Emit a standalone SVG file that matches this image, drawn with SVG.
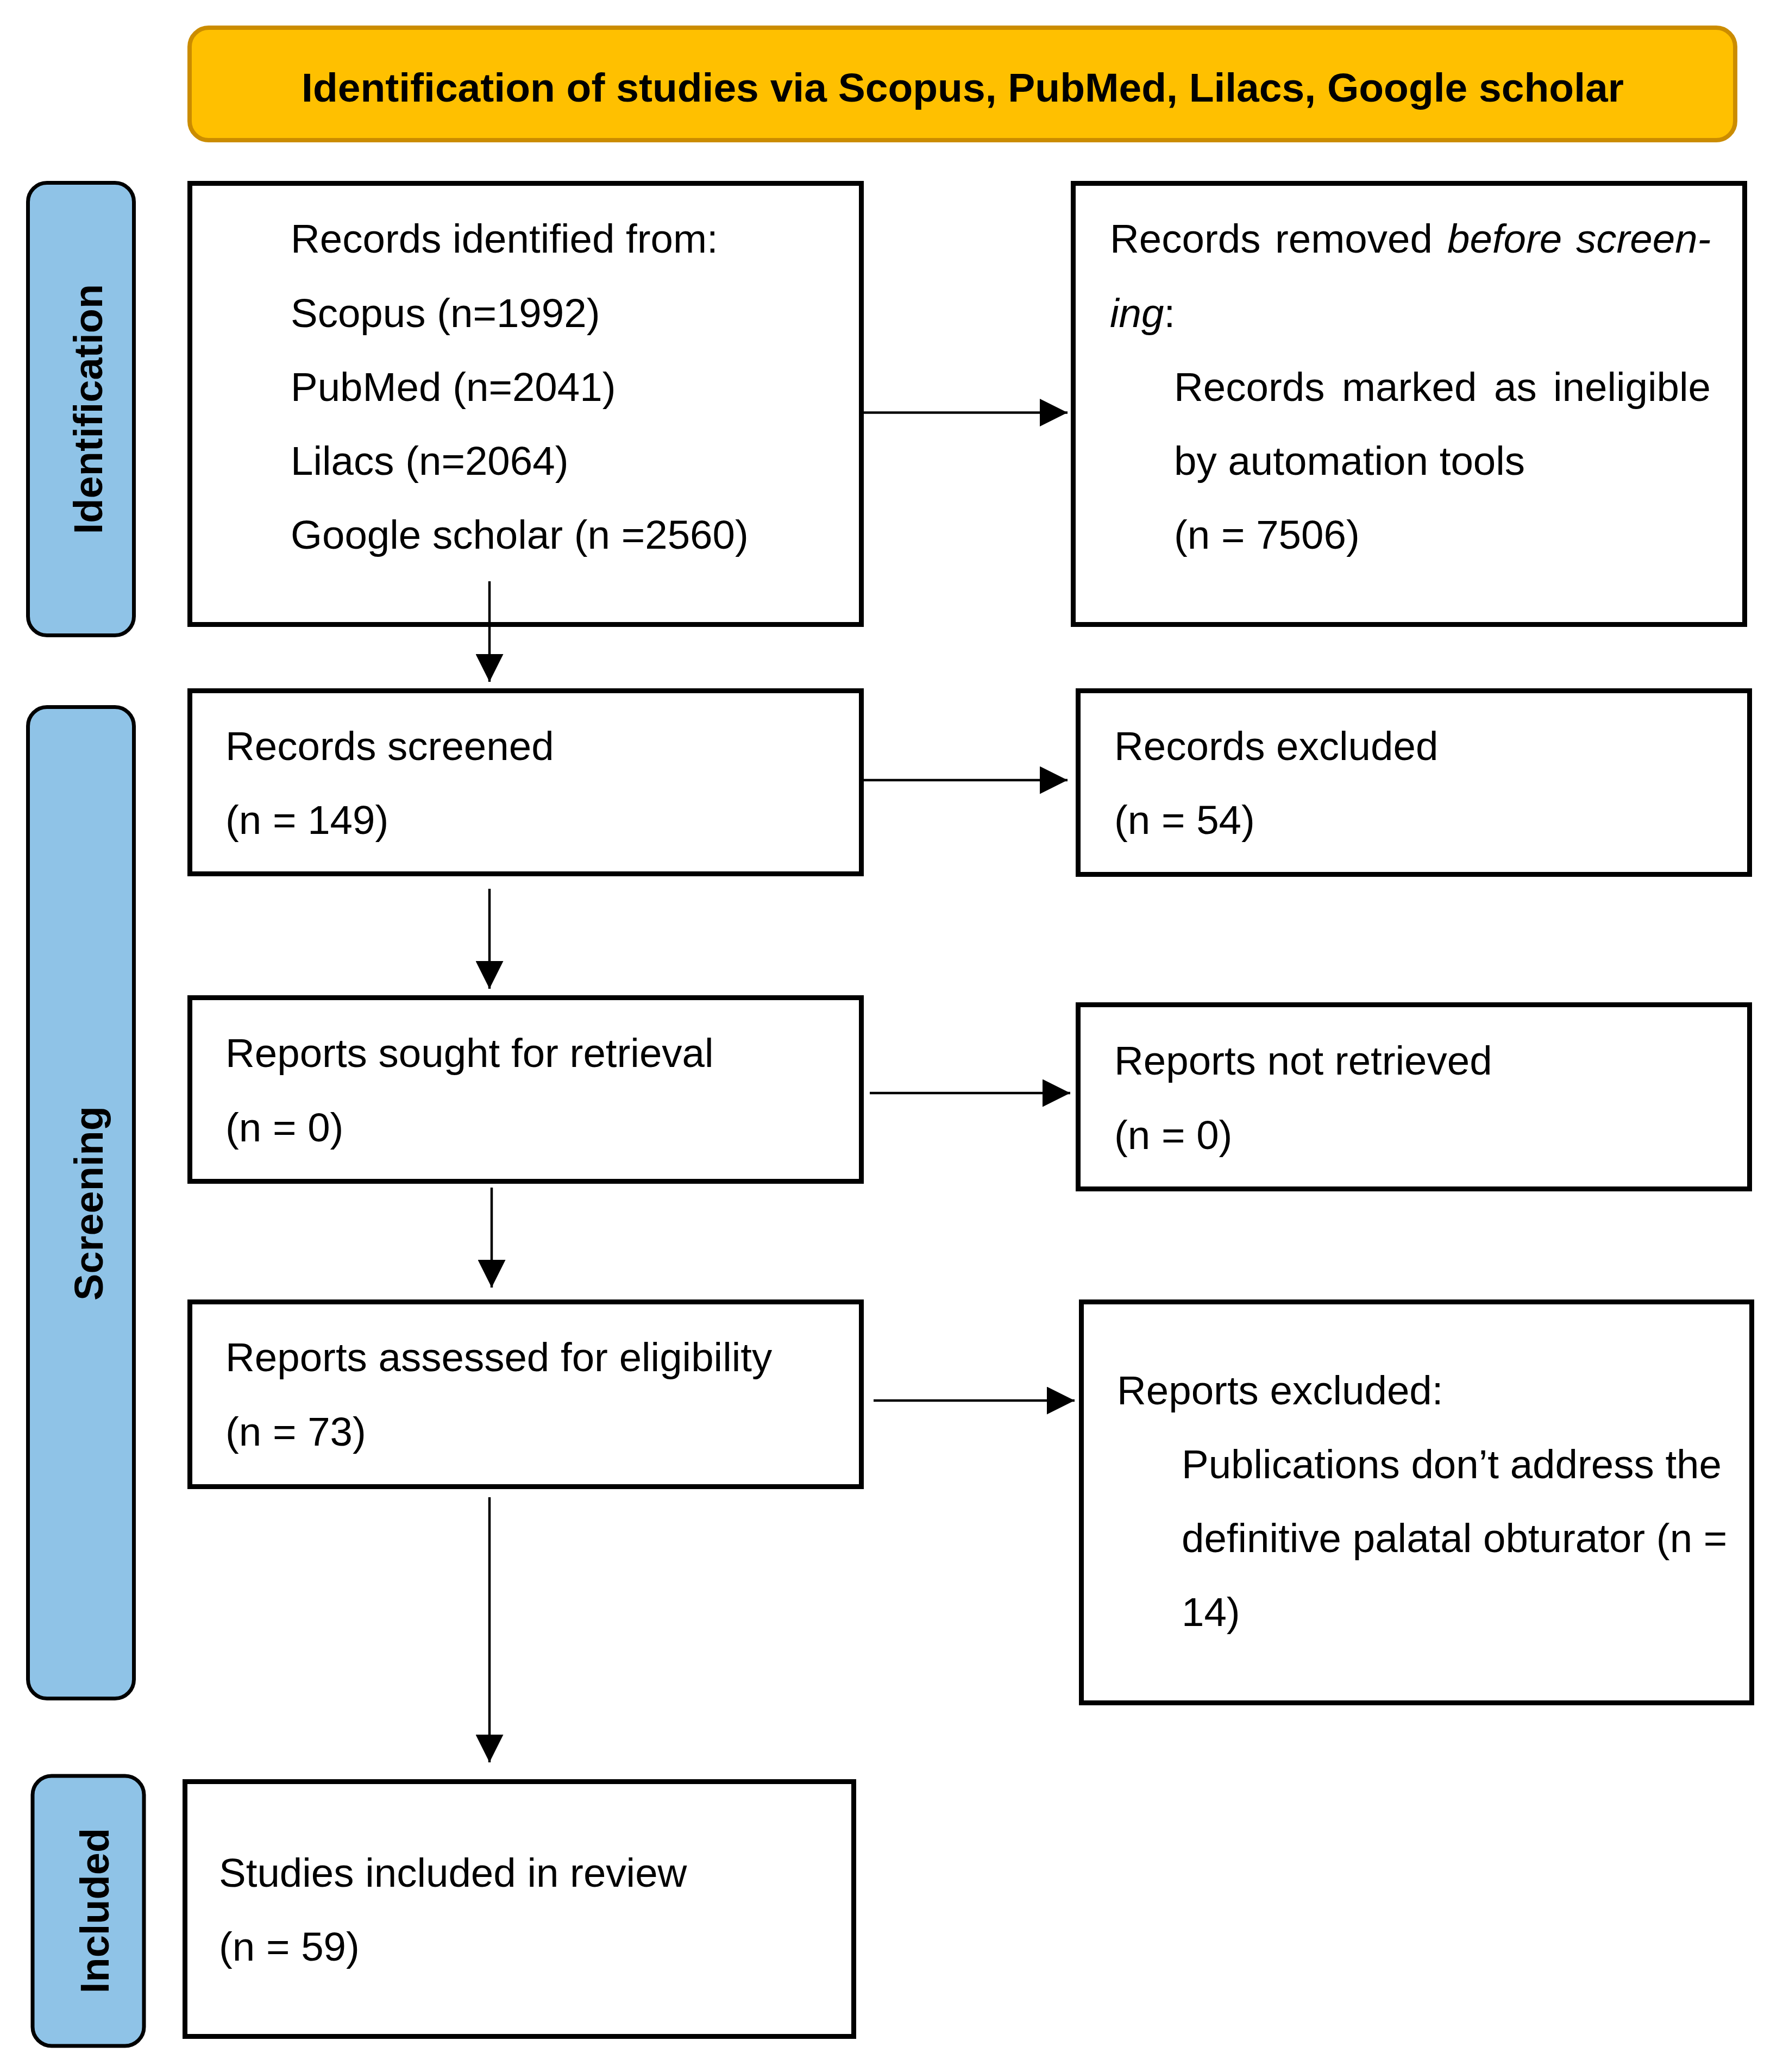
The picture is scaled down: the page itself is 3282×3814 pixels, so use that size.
<svg xmlns="http://www.w3.org/2000/svg" width="3282" height="3814" viewBox="0 0 3282 3814">
<style>
.box{fill:#ffffff;stroke:#000000;stroke-width:9}
.side{fill:#8FC3E7;stroke:#000000;stroke-width:7}
.t{font-family:"Liberation Sans",Arial,sans-serif;font-size:74.5px;fill:#000000}
.sl{font-family:"Liberation Sans",Arial,sans-serif;font-size:74px;font-weight:bold;fill:#000000;text-anchor:middle}
.title{font-family:"Liberation Sans",Arial,sans-serif;font-size:75px;font-weight:bold;fill:#000000;text-anchor:middle}
.con{stroke:#000000;stroke-width:4.5;fill:none;marker-end:url(#ah)}
</style>
<defs>
<marker id="ah" markerUnits="userSpaceOnUse" markerWidth="51" markerHeight="51" refX="51" refY="25.5" orient="auto">
<path d="M0,0 L51,25.5 L0,51 Z" fill="#000000"/>
</marker>
</defs>
<rect width="3282" height="3814" fill="#ffffff"/>

<g id="title">
<rect x="349" y="51" width="2845" height="207" rx="35" fill="#FFC000" stroke="#CB8C00" stroke-width="8"/>
<text class="title" x="1772" y="187">Identification of studies via Scopus, PubMed, Lilacs, Google scholar</text>
</g>

<g id="side-identification">
<rect class="side" x="51.5" y="336.5" width="195" height="833" rx="35"/>
<text class="sl" transform="translate(188,753) rotate(-90)">Identification</text>
</g>
<g id="side-screening">
<rect class="side" x="51.5" y="1301.5" width="195" height="1825" rx="35"/>
<text class="sl" transform="translate(189,2215) rotate(-90)">Screening</text>
</g>
<g id="side-included">
<rect class="side" x="60" y="3269" width="205" height="497" rx="35"/>
<text class="sl" transform="translate(200,3517) rotate(-90)">Included</text>
</g>

<g id="records-identified">
<rect class="box" x="349.5" y="337.5" width="1236" height="812"/>
<text class="t" x="535" y="465">Records identified from:</text>
<text class="t" x="535" y="602">Scopus (n=1992)</text>
<text class="t" x="535" y="738">PubMed (n=2041)</text>
<text class="t" x="535" y="874">Lilacs (n=2064)</text>
<text class="t" x="535" y="1010">Google scholar (n =2560)</text>
</g>

<g id="records-removed">
<rect class="box" x="1975.5" y="337.5" width="1236" height="812"/>
<text class="t" y="465"><tspan x="2043">Records</tspan><tspan x="2347">removed</tspan><tspan x="2664" font-style="italic">before</tspan><tspan x="2901" font-style="italic">screen-</tspan></text>
<text class="t" x="2043" y="602"><tspan font-style="italic">ing</tspan>:</text>
<text class="t" y="738"><tspan x="2161">Records</tspan><tspan x="2470">marked</tspan><tspan x="2750">as</tspan><tspan x="2859">ineligible</tspan></text>
<text class="t" x="2161" y="874">by automation tools</text>
<text class="t" x="2161" y="1010">(n = 7506)</text>
</g>

<g id="records-screened">
<rect class="box" x="349.5" y="1271.5" width="1236" height="337"/>
<text class="t" x="415" y="1399">Records screened</text>
<text class="t" x="415" y="1535">(n = 149)</text>
</g>

<g id="records-excluded">
<rect class="box" x="1984.5" y="1271.5" width="1236" height="338"/>
<text class="t" x="2051" y="1399">Records excluded</text>
<text class="t" x="2051" y="1535">(n = 54)</text>
</g>

<g id="reports-sought">
<rect class="box" x="349.5" y="1836.5" width="1236" height="338"/>
<text class="t" x="415" y="1964">Reports sought for retrieval</text>
<text class="t" x="415" y="2101">(n = 0)</text>
</g>

<g id="reports-not-retrieved">
<rect class="box" x="1984.5" y="1849.5" width="1236" height="339"/>
<text class="t" x="2051" y="1978">Reports not retrieved</text>
<text class="t" x="2051" y="2115">(n = 0)</text>
</g>

<g id="reports-assessed">
<rect class="box" x="349.5" y="2396.5" width="1236" height="340"/>
<text class="t" x="415" y="2524">Reports assessed for eligibility</text>
<text class="t" x="415" y="2661">(n = 73)</text>
</g>

<g id="reports-excluded">
<rect class="box" x="1990.5" y="2396.5" width="1234" height="738"/>
<text class="t" x="2056" y="2585">Reports excluded:</text>
<text class="t" x="2175" y="2721">Publications don’t address the</text>
<text class="t" x="2175" y="2857">definitive palatal obturator (n =</text>
<text class="t" x="2175" y="2993">14)</text>
</g>

<g id="studies-included">
<rect class="box" x="340.5" y="3279.5" width="1231" height="469"/>
<text class="t" x="403" y="3473">Studies included in review</text>
<text class="t" x="403" y="3609">(n = 59)</text>
</g>

<g id="connectors">
<line class="con" x1="1590" y1="759.5" x2="1965" y2="759.5"/>
<line class="con" x1="1590" y1="1436" x2="1965" y2="1436"/>
<line class="con" x1="1601" y1="2012" x2="1970" y2="2012"/>
<line class="con" x1="1608" y1="2578" x2="1978" y2="2578"/>
<line class="con" x1="901" y1="1070" x2="901" y2="1255"/>
<line class="con" x1="901" y1="1636" x2="901" y2="1820"/>
<line class="con" x1="905" y1="2186" x2="905" y2="2370"/>
<line class="con" x1="901" y1="2756" x2="901" y2="3244"/>
</g>
</svg>
